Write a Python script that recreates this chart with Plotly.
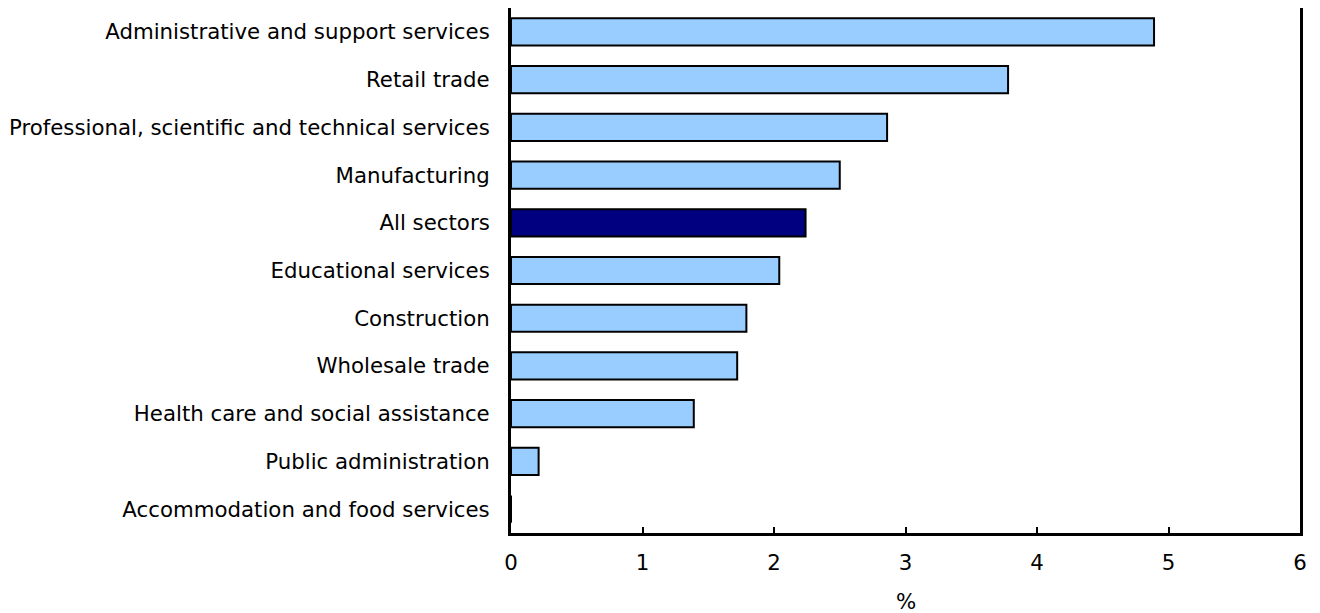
import plotly.graph_objects as go

categories = [
    "Administrative and support services",
    "Retail trade",
    "Professional, scientific and technical services",
    "Manufacturing",
    "All sectors",
    "Educational services",
    "Construction",
    "Wholesale trade",
    "Health care and social assistance",
    "Public administration",
    "Accommodation and food services",
]
values = [4.89, 3.78, 2.86, 2.50, 2.24, 2.04, 1.79, 1.72, 1.39, 0.21, 0.0]
highlight = "All sectors"

x_ticks = [0, 1, 2, 3, 4, 5, 6]
x_title = "%"

colors = ["#000080" if c == highlight else "#99CCFF" for c in categories]

fig = go.Figure(
    go.Bar(
        x=values,
        y=categories,
        orientation="h",
        marker=dict(color=colors, line=dict(color="black", width=2)),
        width=0.57,
    )
)

font = dict(family="DejaVu Sans, Verdana, sans-serif", size=21.3, color="black")

fig.update_layout(
    width=1312,
    height=605,
    margin=dict(l=503, r=20, t=0, b=80, autoexpand=False),
    plot_bgcolor="white",
    paper_bgcolor="white",
    font=font,
    showlegend=False,
    annotations=[
        dict(
            text=x_title,
            xref="paper",
            yref="paper",
            x=0.5,
            y=-0.131,
            xanchor="center",
            yanchor="middle",
            showarrow=False,
            font=font,
        )
    ],
)
fig.update_xaxes(
    range=[0, 6],
    tickvals=x_ticks,
    ticks="inside",
    ticklen=6,
    tickwidth=2,
    tickcolor="black",
    ticklabelstandoff=8,
    showline=True,
    linecolor="black",
    linewidth=3,
    mirror=True,
    showgrid=False,
    zeroline=False,
)
fig.update_yaxes(
    categoryorder="array",
    categoryarray=categories[::-1],
    showline=True,
    linecolor="black",
    linewidth=3,
    mirror=True,
    showgrid=False,
    ticks="",
    ticklabelstandoff=14,
)

fig.write_html("out.html")
